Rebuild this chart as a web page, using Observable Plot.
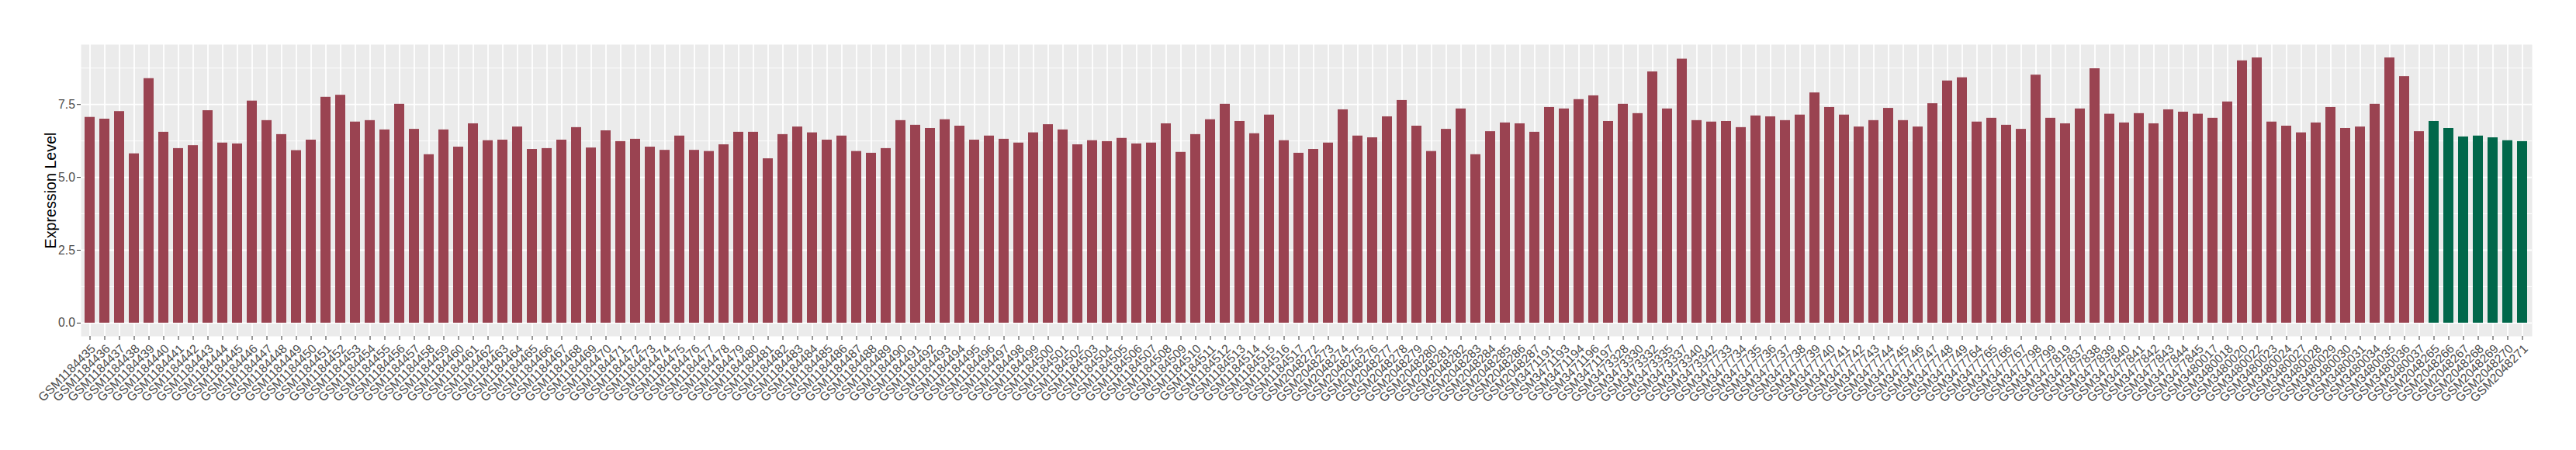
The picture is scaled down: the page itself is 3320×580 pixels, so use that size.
<!DOCTYPE html>
<html><head><meta charset="utf-8">
<script src="https://cdn.jsdelivr.net/npm/d3@7"></script>
<script src="https://cdn.jsdelivr.net/npm/@observablehq/plot@0.6"></script>
<style>html,body{margin:0;padding:0;background:#fff}#chart svg{display:block}</style>
</head><body><div id="chart"></div>
<script>
// ---- Data ----
const redSamples = [
"GSM1184435","GSM1184436","GSM1184437","GSM1184438","GSM1184439","GSM1184440","GSM1184441","GSM1184442","GSM1184443","GSM1184444",
"GSM1184445","GSM1184446","GSM1184447","GSM1184448","GSM1184449","GSM1184450","GSM1184451","GSM1184452","GSM1184453","GSM1184454",
"GSM1184455","GSM1184456","GSM1184457","GSM1184458","GSM1184459","GSM1184460","GSM1184461","GSM1184462","GSM1184463","GSM1184464",
"GSM1184465","GSM1184466","GSM1184467","GSM1184468","GSM1184469","GSM1184470","GSM1184471","GSM1184472","GSM1184473","GSM1184474",
"GSM1184475","GSM1184476","GSM1184477","GSM1184478","GSM1184479","GSM1184480","GSM1184481","GSM1184482","GSM1184483","GSM1184484",
"GSM1184485","GSM1184486","GSM1184487","GSM1184488","GSM1184489","GSM1184490","GSM1184491","GSM1184492","GSM1184493","GSM1184494",
"GSM1184495","GSM1184496","GSM1184497","GSM1184498","GSM1184499","GSM1184500","GSM1184501","GSM1184502","GSM1184503","GSM1184504",
"GSM1184505","GSM1184506","GSM1184507","GSM1184508","GSM1184509","GSM1184510","GSM1184511","GSM1184512","GSM1184513","GSM1184514",
"GSM1184515","GSM1184516","GSM1184517",
"GSM2048272","GSM2048273","GSM2048274","GSM2048275","GSM2048276","GSM2048277","GSM2048278","GSM2048279","GSM2048280","GSM2048281",
"GSM2048282","GSM2048283","GSM2048284","GSM2048285","GSM2048286","GSM2048287",
"GSM3471191","GSM3471193","GSM3471194","GSM3471196","GSM3471197",
"GSM3473328","GSM3473330","GSM3473332","GSM3473335","GSM3473337","GSM3473340","GSM3473342",
"GSM3477733","GSM3477734","GSM3477735","GSM3477736","GSM3477737","GSM3477738","GSM3477739","GSM3477740","GSM3477741","GSM3477742",
"GSM3477743","GSM3477744","GSM3477745","GSM3477746","GSM3477747","GSM3477748","GSM3477749",
"GSM3477764","GSM3477765","GSM3477766","GSM3477767","GSM3477798","GSM3477799","GSM3477819","GSM3477837","GSM3477838","GSM3477839",
"GSM3477840","GSM3477841","GSM3477842","GSM3477843","GSM3477844","GSM3477845",
"GSM3480017","GSM3480018","GSM3480020","GSM3480022","GSM3480023","GSM3480024","GSM3480027","GSM3480028","GSM3480029","GSM3480030",
"GSM3480031","GSM3480034","GSM3480035","GSM3480036","GSM3480037"
];
const redValues = [
7.06,7.00,7.26,5.81,8.39,6.55,5.99,6.09,7.29,6.18,6.15,7.62,6.95,6.47,5.92,6.28,7.75,7.82,6.90,6.95,6.63,7.51,6.65,5.78,6.63,6.04,
6.84,6.26,6.28,6.73,5.96,5.99,6.28,6.71,6.01,6.60,6.23,6.31,6.04,5.93,6.42,5.93,5.89,6.12,6.55,6.55,5.64,6.47,6.73,6.53,6.28,6.42,5.89,5.83,5.99,
6.95,6.79,6.68,6.98,6.76,6.28,6.42,6.31,6.18,6.53,6.81,6.63,6.12,6.26,6.23,6.34,6.15,6.18,6.84,5.86,6.47,6.98,7.51,6.92,6.50,7.14,6.26,5.83,
5.96,6.18,7.32,6.42,6.36,7.08,7.64,6.76,5.89,6.65,7.35,5.78,6.57,6.87,6.84,6.55,
7.40,7.35,7.67,7.80,6.92,7.51,7.19,8.62,7.35,9.06,6.95,6.90,
6.92,6.71,7.11,7.08,6.95,7.14,7.90,7.40,7.14,6.73,6.95,7.37,6.95,6.73,7.53,8.31,8.42,
6.90,7.03,6.79,6.65,8.51,7.03,6.84,7.35,8.73,7.17,6.87,7.19,6.84,7.32,7.24,7.17,
7.03,7.59,9.00,9.10,6.90,6.76,6.53,6.87,7.40,6.68,6.73,7.51,9.10,8.46,6.57
];
const greenSamples = ["GSM2048265","GSM2048266","GSM2048267","GSM2048268","GSM2048269","GSM2048270","GSM2048271"];
const greenValues = [6.92,6.68,6.39,6.42,6.36,6.26,6.23];

const groupNames = ["group1","group2"];
const groupColors = ["#9A4351","#01674A"];
const yTicks = [0, 2.5, 5, 7.5];
const yMinorTicks = [1.25, 3.75, 6.25, 8.75];
const yTitle = "Expression Level";

// ---- Table ----
const data = [
  ...redSamples.map((s, i) => ({sample: s, value: redValues[i], group: groupNames[0]})),
  ...greenSamples.map((s, i) => ({sample: s, value: greenValues[i], group: groupNames[1]}))
];
const samples = data.map(d => d.sample);
const vmax = d3.max(data, d => d.value);

const chart = Plot.plot({
  width: 3320,
  height: 580,
  marginLeft: 104,
  marginRight: 57,
  marginTop: 57,
  marginBottom: 147,
  style: {fontFamily: "'Liberation Sans', Arial, sans-serif", background: "#fff", overflow: "visible"},
  x: {type: "band", domain: samples, paddingInner: 0.3, paddingOuter: 0.25, align: 0.5},
  y: {domain: [-0.05 * vmax, 1.05 * vmax]},
  color: {domain: groupNames, range: groupColors},
  marks: [
    Plot.frame({fill: "#EBEBEB", stroke: null}),
    Plot.ruleY(yMinorTicks, {y: d => d, stroke: "#fff", strokeWidth: 0.9}),
    Plot.ruleY(yTicks, {y: d => d, stroke: "#fff", strokeWidth: 1.8}),
    Plot.ruleX(samples, {x: d => d, stroke: "#fff", strokeWidth: 1.8}),
    Plot.barY(data, {x: "sample", y: "value", fill: "group"}),
    Plot.axisY({ticks: yTicks, tickFormat: d3.format(".1f"), tickSize: 5, tickPadding: 2.5, fontSize: 15.8, stroke: "#333333", fill: "#4D4D4D", label: null}),
    Plot.axisX({tickSize: 5, tickFormat: () => "", stroke: "#333333", label: null}),
    Plot.text(samples, {x: d => d, text: d => d, frameAnchor: "bottom", dy: 9, rotate: -45, textAnchor: "end", lineAnchor: "top", fontSize: 15.8, fill: "#4D4D4D"}),
    Plot.text([yTitle], {text: d => d, frameAnchor: "left", dx: -39, rotate: -90, textAnchor: "middle", lineAnchor: "middle", fontSize: 19.7, fill: "#000"})
  ]
});
document.getElementById("chart").appendChild(chart);
</script>
</body></html>
